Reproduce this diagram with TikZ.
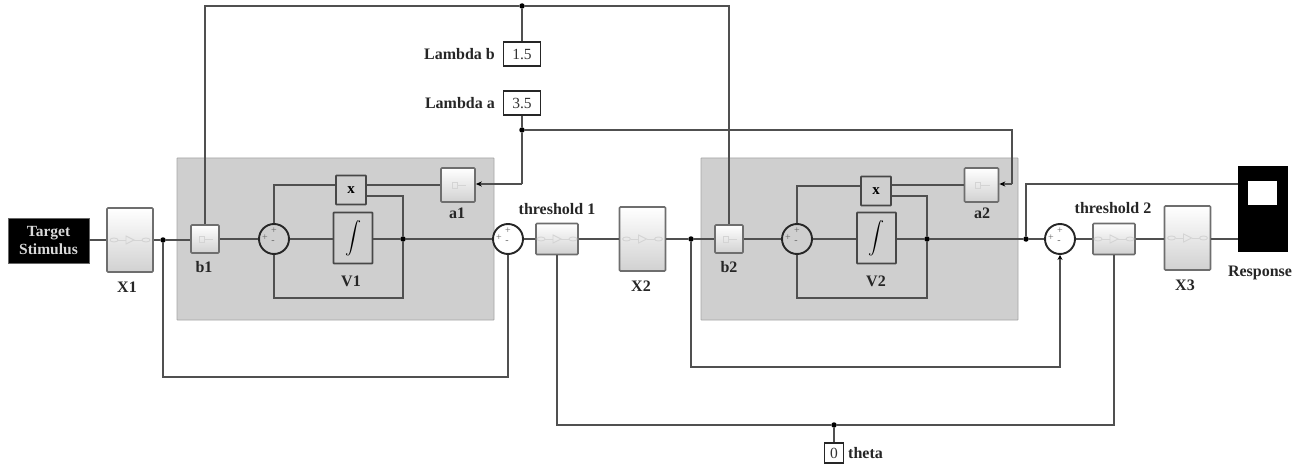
\documentclass[tikz,border=0pt]{standalone}
\usepackage{fontspec}
\setmainfont{Liberation Serif}
\usetikzlibrary{arrows.meta}
\definecolor{wire}{HTML}{505050}
\definecolor{panel}{HTML}{CFCFCF}
\definecolor{frame}{HTML}{6E6E6E}
\definecolor{glyph}{HTML}{D4D4D4}
\tikzset{
  x=1pt,y=-1pt,
  lab/.style={font=\bfseries\fontsize{16}{18}\selectfont,text=black!85,inner sep=0pt},
  wirel/.style={draw=wire,line width=1.6pt},
  tip/.style={-{Stealth[length=6pt,width=5pt,black]}},
  panelbox/.style={draw=black!35,line width=0.8pt,fill=panel,inner sep=0pt,rounded corners=0.5pt},
  grad/.style={draw=frame,line width=1.6pt,rounded corners=1pt,top color=white,bottom color=black!18,inner sep=0pt},
  opbox/.style={draw=black!72,line width=1.7pt,fill=panel,inner sep=0pt,rounded corners=0.5pt},
  sumc/.style={circle,draw=black!85,line width=1.9pt,minimum size=30pt,inner sep=0pt},
  sgn/.style={font=\fontsize{10}{10}\selectfont,text=black!60,inner sep=0pt},
  constbox/.style={draw=black!85,fill=white,line width=1.3pt,inner sep=0pt,font=\fontsize{15.5}{17}\selectfont,text=black!80},
  dot/.style={circle,fill=black,inner sep=0pt,minimum size=5.5pt},
  gl/.style={draw=glyph,line width=0.9pt}
}
\newcommand{\signs}[1]{%
  \node[sgn] (#1p) at ([yshift=8pt]#1.center) {+};
  \node[sgn] (#1q) at ([xshift=-9pt,yshift=1pt]#1.center) {+};
  \node[sgn] (#1m) at ([xshift=-1pt,yshift=-3pt]#1.center) {-};
}
\newcommand{\chain}[1]{%
  \draw[gl] ([xshift=-16pt]#1.center) circle[x radius=4pt,y radius=2pt];
  \draw[gl] ([xshift=16pt]#1.center) circle[x radius=4pt,y radius=2pt];
  \draw[gl] ([xshift=-12pt]#1.center) -- ([xshift=-4pt]#1.center);
  \draw[gl] ([xshift=4pt]#1.center) -- ([xshift=12pt]#1.center);
  \draw[gl] ([xshift=-4pt,yshift=-4pt]#1.center) -- ([xshift=4pt]#1.center) -- ([xshift=-4pt,yshift=4pt]#1.center) -- cycle;
}
\newcommand{\smallglyph}[1]{%
  \draw[gl] ([xshift=-6pt,yshift=-3pt]#1.center) rectangle ([xshift=-1pt,yshift=3pt]#1.center);
  \draw[gl] ([xshift=-1pt]#1.center) -- ([xshift=8pt]#1.center);
}
\begin{document}
\begin{tikzpicture}
\useasboundingbox (0,0) rectangle (1304,468);
% grey panels
\node[panelbox,minimum width=317pt,minimum height=162pt] (P1) at (335.5,239) {};
\node[panelbox,minimum width=317pt,minimum height=162pt] (P2) at (859.5,239) {};
% blocks
\node[draw=black!60,fill=black,minimum width=81pt,minimum height=45pt,inner sep=0pt,align=center,text=white!85!black,font=\bfseries\fontsize{15.5}{18.5}\selectfont] (T) at (48.5,240.5) {Target\\Stimulus};
\node[grad,minimum width=46pt,minimum height=64pt] (X1) at (130,240) {};
\node[grad,minimum width=46pt,minimum height=64pt] (X2) at (642.5,239) {};
\node[grad,minimum width=46pt,minimum height=64pt] (X3) at (1187.5,238) {};
\node[grad,minimum width=28pt,minimum height=28pt] (b1) at (205,239) {};
\node[grad,minimum width=28pt,minimum height=28pt] (b2) at (729,239) {};
\node[grad,minimum width=34pt,minimum height=34pt] (a1) at (458,185) {};
\node[grad,minimum width=34pt,minimum height=34pt] (a2) at (981.5,185) {};
\node[grad,minimum width=42pt,minimum height=31pt] (th1) at (557,239) {};
\node[grad,minimum width=42pt,minimum height=31pt] (th2) at (1114,239) {};
\node[opbox,minimum width=30pt,minimum height=29pt,font=\bfseries\fontsize{15}{15}\selectfont] (m1) at (351,190) {x};
\node[opbox,minimum width=30pt,minimum height=29pt,font=\bfseries\fontsize{15}{15}\selectfont] (m2) at (876,191) {x};
\node[opbox,minimum width=39pt,minimum height=51pt] (i1) at (353,238) {\scalebox{1.6}{$\displaystyle\int$}};
\node[opbox,minimum width=39pt,minimum height=51pt] (i2) at (876.5,238) {\scalebox{1.6}{$\displaystyle\int$}};
\node[sumc,fill=panel] (s1) at (274,239) {};
\node[sumc,fill=white] (s2) at (508,239) {};
\node[sumc,fill=panel] (s3) at (797,239) {};
\node[sumc,fill=white] (s4) at (1060,239) {};
\node[draw=black,fill=black,minimum width=49pt,minimum height=85pt,inner sep=0pt] (R) at (1262.5,208.5) {};
\node[fill=white,minimum width=29pt,minimum height=24pt,inner sep=0pt] (Rw) at (1262.5,193) {};
\node[constbox,minimum width=37pt,minimum height=24pt] (lb) at (522,54) {1.5};
\node[constbox,minimum width=37pt,minimum height=24pt] (la) at (522,103) {3.5};
\node[constbox,minimum width=19pt,minimum height=20pt] (th0) at (834,453) {0};
% glyphs
\chain{X1}\chain{X2}\chain{X3}
\smallglyph{b1}\smallglyph{b2}\smallglyph{a1}\smallglyph{a2}
\chain{th1}\chain{th2}
\signs{s1}\signs{s2}\signs{s3}\signs{s4}
% junctions
\node[dot] (j1) at (163,240) {};
\node[dot] (j2) at (403,239) {};
\node[dot] (j3) at (691,239) {};
\node[dot] (j4) at (927,239) {};
\node[dot] (j5) at (1026,239) {};
\node[dot] (jt) at (522,6) {};
\node[dot] (ja) at (522,130) {};
\node[dot] (jth) at (834,425) {};
% free corners
\coordinate (c1) at (163,377);
\coordinate (c2) at (691,367);
\coordinate (c3) at (403,298);
\coordinate (c4) at (927,298);
\coordinate (c5) at (1012,130);
\coordinate (c6) at (1012,184);
\coordinate (c9) at (522,184);
% connectors
\draw[wirel] (T.east |- X1.east) -- (X1.west);
\draw[wirel] (X1.east) -- (j1) -- (j1 -| b1.west);
\draw[wirel] (b1.east) -- (s1.west);
\draw[wirel] (s1.east) -- (s1.east -| i1.west);
\draw[wirel] (j2 -| i1.east) -- (j2) -- (s2.west);
\draw[wirel] (s2.east) -- (th1.west);
\draw[wirel] (th1.east) -- (X2.west);
\draw[wirel] (X2.east) -- (j3) -- (b2.west);
\draw[wirel] (b2.east) -- (s3.west);
\draw[wirel] (s3.east) -- (s3.east -| i2.west);
\draw[wirel] (j4 -| i2.east) -- (j4) -- (j5) -- (s4.west);
\draw[wirel] (s4.east) -- (th2.west);
\draw[wirel] (th2.east) -- (th2.east -| X3.west);
\draw[wirel] (th2.east -| X3.east) -- (th2.east -| R.west);
\draw[wirel] (b1.north) |- (jt) -| (b2.north);
\draw[wirel] (jt) -- (lb.north);
\draw[wirel] (la.south) -- (ja) -- (c9);
\draw[wirel,tip] (c9) -- (a1.east |- c9);
\draw[wirel] (ja) -- (c5) -- (c6);
\draw[wirel,tip] (c6) -- (a2.east |- c6);
\draw[wirel] (a1.west) -- (a1.west -| m1.east);
\draw[wirel] (a2.west) -- (a2.west -| m2.east);
\draw[wirel] (s1.north) |- ([yshift=5pt]m1.west);
\draw[wirel] (s3.north) |- ([yshift=5pt]m2.west);
\draw[wirel] ([yshift=-6pt]m1.east) -| (j2);
\draw[wirel] ([yshift=-5pt]m2.east) -| (j4);
\draw[wirel] (j2) -- (c3) -| (s1.south);
\draw[wirel] (j4) -- (c4) -| (s3.south);
\draw[wirel] (j1) -- (c1) -| (s2.south);
\draw[wirel,-{Stealth[length=5pt,width=5pt,black]}] (j3) -- (c2) -| (s4.south);
\draw[wirel] (j5) |- (R.west |- c6);
\draw[wirel] (th1.south) |- (jth) -| (th2.south);
\draw[wirel] (jth) -- (th0.north);
% labels
\node[lab] (tX1) at (127,287) {X1};
\node[lab] (tX2) at (641,286) {X2};
\node[lab] (tX3) at (1185,285) {X3};
\node[lab] (tb1) at (204,267) {b1};
\node[lab] (tb2) at (729,267) {b2};
\node[lab] (ta1) at (457,213) {a1};
\node[lab] (ta2) at (982,213) {a2};
\node[lab] (tV1) at (351,281) {V1};
\node[lab] (tV2) at (876,281) {V2};
\node[lab] (tt1) at (557,209) {threshold 1};
\node[lab] (tt2) at (1113,208) {threshold 2};
\node[lab] (tR) at (1260,273) {Response};
\node[lab,anchor=east] (tlb) at (495,54) {Lambda b};
\node[lab,anchor=east] (tla) at (495,103) {Lambda a};
\node[lab,anchor=west] (tth) at (848,453) {theta};
\end{tikzpicture}
\end{document}
